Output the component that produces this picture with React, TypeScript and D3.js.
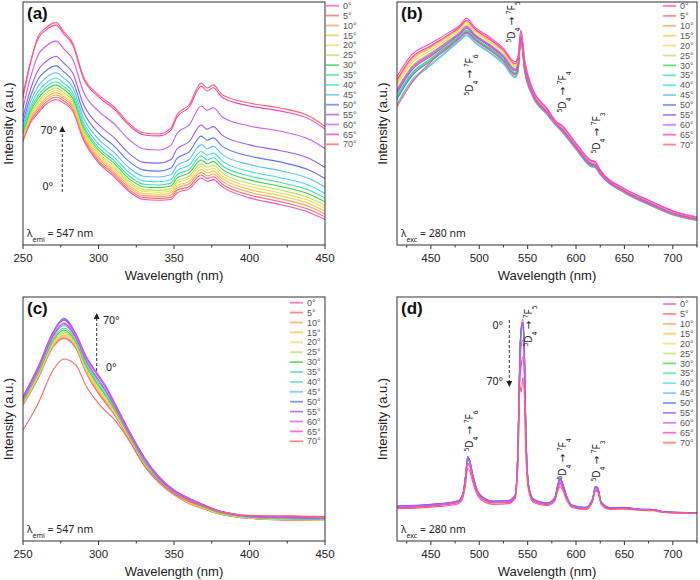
import React from "react";
import * as d3 from "d3";

// angle labels and line colours shared by all four panels
const angles = ["0°", "5°", "10°", "15°", "20°", "25°", "30°", "35°", "40°", "45°", "50°", "55°", "60°", "65°", "70°"];
const seriesColors = [
  "#ff4fb4", "#ff6a6a", "#ffa05a", "#ffc24a", "#eedd55", "#bde35a", "#3fd43f", "#3fe0a8",
  "#45dede", "#5ac0ff", "#5a78ff", "#9a5aff", "#cc5aff", "#ff3fc4", "#ff6464",
];

const ticksExc = [250, 300, 350, 400, 450];
const ticksEm = [450, 500, 550, 600, 650, 700];

// (a) excitation, lambda_emi = 547 nm
const wlA = [250, 255, 260, 265, 272, 277, 283, 290, 300, 310, 320, 330, 340, 348, 352, 360, 368, 372, 376, 382, 400, 420, 440, 450];
const excA = [
  [42.7, 50.3, 54.3, 57.7, 59.8, 58.4, 55.0, 43.3, 33.8, 28.3, 22.1, 18.7, 18.4, 18.7, 21.5, 23.1, 27.6, 26.2, 26.9, 23.9, 19.4, 16.7, 13.3, 10.5],
  [43.2, 51.0, 55.2, 58.6, 60.8, 59.3, 55.8, 44.1, 34.6, 29.2, 22.9, 19.5, 19.2, 19.6, 22.5, 24.1, 28.8, 27.4, 28.1, 25.0, 20.6, 17.9, 14.5, 11.6],
  [43.8, 51.8, 56.2, 59.6, 61.7, 60.2, 56.7, 44.9, 35.5, 30.0, 23.8, 20.3, 20.0, 20.5, 23.4, 25.2, 29.9, 28.5, 29.2, 26.2, 21.7, 19.1, 15.7, 12.8],
  [44.3, 52.5, 57.1, 60.5, 62.7, 61.0, 57.5, 45.6, 36.3, 30.9, 24.6, 21.2, 20.9, 21.4, 24.4, 26.2, 31.1, 29.7, 30.4, 27.3, 22.9, 20.3, 16.9, 13.9],
  [44.8, 53.3, 58.1, 61.5, 63.6, 61.9, 58.4, 46.4, 37.2, 31.7, 25.5, 22.0, 21.7, 22.2, 25.4, 27.3, 32.3, 30.8, 31.6, 28.4, 24.1, 21.5, 18.1, 15.1],
  [45.4, 54.0, 59.0, 62.4, 64.6, 62.8, 59.2, 47.2, 38.0, 32.6, 26.3, 22.8, 22.5, 23.1, 26.3, 28.3, 33.5, 32.0, 32.8, 29.6, 25.3, 22.7, 19.2, 16.2],
  [46.1, 55.0, 60.3, 63.7, 65.8, 64.0, 60.3, 48.3, 39.1, 33.8, 27.4, 23.9, 23.6, 24.3, 27.6, 29.7, 35.0, 33.5, 34.3, 31.1, 26.8, 24.2, 20.8, 17.8],
  [46.8, 56.0, 61.5, 65.0, 67.1, 65.2, 61.4, 49.3, 40.2, 34.9, 28.6, 25.0, 24.7, 25.5, 28.9, 31.1, 36.6, 35.0, 35.9, 32.6, 28.4, 25.8, 22.4, 19.3],
  [47.7, 57.2, 63.1, 66.5, 68.7, 66.6, 62.8, 50.6, 41.6, 36.3, 30.0, 26.4, 26.0, 27.0, 30.5, 32.8, 38.5, 37.0, 37.8, 34.5, 30.3, 27.8, 24.4, 21.2],
  [49.0, 58.9, 65.3, 68.8, 70.9, 68.7, 64.8, 52.4, 43.6, 38.3, 31.9, 28.3, 28.0, 29.0, 32.7, 35.2, 41.3, 39.6, 40.6, 37.2, 33.1, 30.6, 27.2, 23.9],
  [50.6, 61.1, 68.2, 71.6, 73.7, 71.3, 67.3, 54.8, 46.1, 40.9, 34.5, 30.8, 30.4, 31.7, 35.6, 38.3, 44.8, 43.1, 44.1, 40.6, 36.6, 34.2, 30.7, 27.4],
  [52.7, 64.1, 71.9, 75.4, 77.6, 74.9, 70.7, 57.9, 49.5, 44.4, 37.8, 34.0, 33.7, 35.2, 39.5, 42.5, 49.4, 47.7, 48.7, 45.1, 41.2, 38.9, 35.5, 31.9],
  [56.3, 69.0, 78.2, 81.7, 83.9, 80.7, 76.3, 63.1, 55.1, 50.1, 43.5, 39.5, 39.1, 41.1, 45.9, 49.4, 57.2, 55.4, 56.5, 52.7, 49.0, 46.9, 43.4, 39.6],
  [62.0, 75.5, 84.9, 88.4, 90.5, 86.9, 82.2, 68.6, 61.0, 56.1, 49.4, 45.3, 44.9, 47.3, 52.6, 56.7, 65.4, 63.4, 64.7, 60.7, 57.2, 55.2, 51.7, 47.7],
  [60.6, 74.9, 85.8, 89.3, 91.5, 87.8, 83.0, 69.4, 61.8, 57.0, 50.2, 46.1, 45.7, 48.2, 53.6, 57.7, 66.6, 64.6, 65.9, 61.8, 58.4, 56.4, 52.9, 48.8],
];

// (b) emission, lambda_exc = 280 nm
const wlB = [415, 430, 450, 470, 480, 487, 495, 510, 525, 537, 540, 543, 547, 555, 570, 580, 585, 600, 615, 620, 625, 650, 675, 700, 725];
const emB = [
  [69.3, 78.2, 83.0, 87.8, 90.5, 93.3, 89.8, 85.7, 80.9, 75.4, 77.5, 88.5, 76.1, 64.5, 56.3, 50.7, 49.4, 41.9, 35.0, 34.3, 30.9, 23.3, 18.5, 14.1, 11.6],
  [63.1, 72.4, 78.2, 84.0, 87.1, 89.5, 86.4, 82.3, 77.5, 72.0, 74.1, 85.8, 73.4, 62.8, 54.9, 49.7, 48.0, 40.5, 33.6, 33.0, 29.9, 22.3, 17.5, 13.2, 10.8],
  [67.4, 76.4, 81.6, 86.7, 89.5, 92.2, 88.8, 84.7, 79.9, 74.4, 76.5, 87.7, 75.3, 64.0, 55.9, 50.4, 49.0, 41.5, 34.6, 33.9, 30.6, 23.0, 18.2, 13.8, 11.4],
  [66.8, 75.9, 81.1, 86.3, 89.1, 91.8, 88.4, 84.3, 79.5, 74.0, 76.1, 87.4, 75.0, 63.8, 55.7, 50.3, 48.8, 41.3, 34.4, 33.8, 30.5, 22.9, 18.1, 13.7, 11.3],
  [65.6, 74.7, 80.1, 85.5, 88.5, 91.0, 87.8, 83.7, 78.9, 73.4, 75.5, 86.9, 74.5, 63.5, 55.5, 50.1, 48.6, 41.1, 34.2, 33.5, 30.3, 22.7, 17.9, 13.6, 11.1],
  [64.3, 73.5, 79.2, 84.8, 87.8, 90.3, 87.1, 83.0, 78.2, 72.7, 74.8, 86.3, 73.9, 63.1, 55.2, 49.9, 48.3, 40.8, 33.9, 33.2, 30.1, 22.5, 17.7, 13.4, 11.0],
  [61.2, 70.6, 76.8, 82.9, 86.1, 88.4, 85.4, 81.3, 76.5, 71.0, 73.1, 84.9, 72.6, 62.2, 54.5, 49.4, 47.6, 40.1, 33.2, 32.5, 29.5, 22.0, 17.2, 12.9, 10.6],
  [60.6, 70.0, 76.3, 82.5, 85.7, 88.0, 85.0, 80.9, 76.1, 70.6, 72.7, 84.7, 72.3, 62.1, 54.3, 49.3, 47.4, 39.9, 33.0, 32.4, 29.4, 21.9, 17.1, 12.8, 10.5],
  [57.5, 67.1, 73.9, 80.6, 84.0, 86.1, 83.3, 79.2, 74.4, 68.9, 71.0, 83.3, 70.9, 61.2, 53.6, 48.8, 46.7, 39.2, 32.3, 31.7, 28.9, 21.4, 16.6, 12.4, 10.1],
  [58.1, 67.7, 74.4, 81.0, 84.4, 86.5, 83.7, 79.6, 74.8, 69.3, 71.4, 83.6, 71.2, 61.4, 53.8, 48.9, 46.9, 39.4, 32.5, 31.9, 29.0, 21.5, 16.7, 12.5, 10.2],
  [60.0, 69.4, 75.8, 82.1, 85.4, 87.6, 84.7, 80.6, 75.8, 70.3, 72.4, 84.4, 72.1, 61.9, 54.2, 49.2, 47.3, 39.8, 32.9, 32.3, 29.3, 21.8, 17.0, 12.8, 10.4],
  [62.5, 71.8, 77.7, 83.6, 86.8, 89.1, 86.1, 82.0, 77.2, 71.7, 73.8, 85.5, 73.1, 62.6, 54.8, 49.6, 47.9, 40.4, 33.5, 32.8, 29.7, 22.2, 17.4, 13.1, 10.7],
  [63.7, 72.9, 78.7, 84.4, 87.4, 89.9, 86.7, 82.6, 77.8, 72.3, 74.4, 86.0, 73.7, 62.9, 55.0, 49.8, 48.1, 40.6, 33.7, 33.1, 30.0, 22.4, 17.6, 13.3, 10.9],
  [68.1, 77.0, 82.0, 87.0, 89.8, 92.5, 89.1, 85.0, 80.2, 74.7, 76.8, 88.0, 75.6, 64.2, 56.0, 50.5, 49.1, 41.6, 34.7, 34.0, 30.7, 23.1, 18.3, 13.9, 11.4],
  [56.9, 66.5, 75.3, 81.7, 85.1, 87.2, 84.4, 80.3, 75.5, 70.0, 72.1, 84.1, 71.8, 61.7, 54.1, 49.1, 47.2, 39.7, 32.8, 32.1, 29.2, 21.7, 16.9, 12.7, 10.3],
];

// (c) excitation, lambda_emi = 547 nm
const wlC = [250, 260, 270, 277, 285, 292, 300, 305, 310, 320, 330, 340, 350, 360, 370, 380, 390, 400, 425, 450];
const excC = [
  [55.7, 66.7, 79.6, 83.0, 79.0, 68.7, 60.5, 56.4, 52.3, 42.1, 31.2, 23.9, 18.9, 15.4, 13.1, 11.1, 10.0, 9.3, 8.6, 8.4],
  [55.8, 66.8, 79.8, 83.2, 79.2, 68.9, 60.7, 56.6, 52.5, 42.2, 31.3, 24.0, 19.0, 15.5, 13.2, 11.1, 10.0, 9.3, 8.6, 8.4],
  [56.0, 67.1, 80.1, 83.7, 79.5, 69.2, 61.1, 57.0, 52.7, 42.4, 31.5, 24.1, 19.1, 15.6, 13.2, 11.2, 10.1, 9.4, 8.7, 8.5],
  [56.3, 67.5, 80.6, 84.3, 80.0, 69.8, 61.7, 57.5, 53.1, 42.6, 31.7, 24.3, 19.2, 15.7, 13.4, 11.3, 10.2, 9.4, 8.8, 8.5],
  [56.5, 67.8, 81.1, 85.0, 80.4, 70.3, 62.3, 58.1, 53.5, 42.9, 32.0, 24.5, 19.4, 15.9, 13.5, 11.4, 10.3, 9.5, 8.9, 8.6],
  [56.8, 68.2, 81.6, 85.7, 80.9, 70.9, 62.9, 58.6, 54.0, 43.2, 32.3, 24.7, 19.5, 16.1, 13.6, 11.5, 10.4, 9.6, 9.0, 8.7],
  [57.2, 68.7, 82.2, 86.5, 81.5, 71.6, 63.7, 59.3, 54.5, 43.5, 32.6, 25.0, 19.7, 16.3, 13.8, 11.6, 10.5, 9.7, 9.1, 8.8],
  [57.5, 69.1, 82.8, 87.3, 82.1, 72.2, 64.4, 60.0, 55.0, 43.9, 33.0, 25.2, 19.9, 16.5, 14.0, 11.8, 10.6, 9.8, 9.2, 8.9],
  [57.9, 69.7, 83.6, 88.3, 82.8, 73.1, 65.3, 60.8, 55.6, 44.3, 33.4, 25.5, 20.2, 16.7, 14.2, 11.9, 10.7, 9.9, 9.3, 9.0],
  [58.4, 70.3, 84.3, 89.3, 83.6, 73.9, 66.2, 61.6, 56.3, 44.7, 33.8, 25.8, 20.4, 17.0, 14.4, 12.1, 10.8, 10.0, 9.4, 9.1],
  [59.0, 71.1, 85.4, 90.8, 84.6, 75.1, 67.6, 62.9, 57.2, 45.3, 34.4, 26.3, 20.8, 17.4, 14.7, 12.3, 11.0, 10.1, 9.6, 9.2],
  [59.2, 71.4, 85.8, 91.3, 85.0, 75.5, 68.0, 63.3, 57.5, 45.5, 34.6, 26.4, 20.9, 17.5, 14.8, 12.4, 11.1, 10.2, 9.7, 9.3],
  [58.9, 70.9, 85.2, 90.5, 84.4, 74.8, 67.3, 62.6, 57.0, 45.2, 34.3, 26.2, 20.7, 17.3, 14.6, 12.3, 11.0, 10.1, 9.6, 9.2],
  [58.2, 70.1, 84.1, 89.0, 83.3, 73.6, 65.9, 61.4, 56.0, 44.5, 33.6, 25.7, 20.3, 16.9, 14.3, 12.0, 10.8, 10.3, 10.1, 9.8],
  [45.5, 56.4, 70.1, 74.6, 72.1, 63.3, 56.4, 53.0, 50.2, 41.4, 31.2, 24.4, 19.3, 16.2, 14.1, 12.0, 11.1, 10.5, 10.3, 10.0],
];

// (d) emission, lambda_exc = 280 nm
const wlD = [415, 450, 478, 483, 486, 488, 490, 493, 497, 503, 515, 530, 537, 540, 542, 543.5, 545, 546.5, 548, 551, 556, 570, 578, 581, 583.5, 586, 590, 596, 610, 617, 620, 622.5, 626, 635, 648, 668, 680, 690, 725];
const emD = [
  [13.8, 14.5, 16.0, 18.6, 26.3, 33.5, 32.3, 27.0, 21.2, 17.7, 15.9, 16.1, 18.3, 38.5, 78.0, 88.5, 91.0, 82.0, 49.0, 23.0, 16.8, 15.1, 17.0, 21.5, 24.0, 22.3, 17.8, 14.2, 13.3, 16.5, 21.0, 20.7, 15.4, 13.3, 13.4, 12.8, 12.7, 11.9, 11.4],
  [13.9, 14.6, 16.1, 18.8, 26.8, 34.0, 32.7, 27.3, 21.4, 17.8, 16.0, 16.2, 18.3, 37.8, 76.0, 86.5, 88.5, 79.5, 47.0, 22.4, 16.8, 15.2, 17.3, 22.2, 25.1, 23.2, 18.3, 14.3, 13.4, 16.8, 21.7, 21.2, 15.6, 13.4, 13.5, 12.8, 12.7, 11.9, 11.4],
  [13.9, 14.6, 16.1, 18.8, 26.7, 34.0, 32.7, 27.3, 21.4, 17.8, 16.0, 16.2, 18.3, 37.6, 75.6, 85.6, 87.8, 78.8, 46.8, 22.4, 16.8, 15.2, 17.3, 22.1, 25.0, 23.1, 18.3, 14.3, 13.4, 16.8, 21.7, 21.2, 15.6, 13.4, 13.5, 12.8, 12.7, 11.9, 11.4],
  [14.0, 14.7, 16.2, 18.9, 26.9, 34.2, 32.9, 27.4, 21.5, 17.9, 16.1, 16.3, 18.4, 37.8, 75.8, 85.8, 88.0, 78.9, 46.9, 22.5, 16.9, 15.3, 17.4, 22.3, 25.2, 23.3, 18.4, 14.4, 13.5, 16.9, 21.8, 21.3, 15.7, 13.4, 13.5, 12.8, 12.7, 11.9, 11.4],
  [14.0, 14.7, 16.2, 18.9, 26.9, 34.2, 32.9, 27.4, 21.5, 17.9, 16.1, 16.3, 18.4, 37.9, 75.9, 85.9, 88.1, 79.0, 47.0, 22.5, 16.9, 15.3, 17.4, 22.3, 25.3, 23.3, 18.4, 14.4, 13.5, 16.9, 21.8, 21.3, 15.7, 13.4, 13.5, 12.8, 12.7, 11.9, 11.4],
  [14.0, 14.7, 16.2, 18.9, 26.9, 34.2, 32.9, 27.4, 21.5, 17.9, 16.1, 16.3, 18.4, 38.0, 76.0, 86.2, 88.5, 79.3, 47.0, 22.5, 16.9, 15.3, 17.4, 22.4, 25.4, 23.4, 18.4, 14.4, 13.5, 16.9, 21.9, 21.4, 15.7, 13.4, 13.5, 12.8, 12.7, 11.9, 11.4],
  [14.1, 14.8, 16.3, 19.0, 27.0, 34.3, 33.0, 27.5, 21.6, 18.0, 16.2, 16.4, 18.5, 38.0, 76.0, 86.0, 88.0, 79.0, 47.0, 22.5, 17.0, 15.4, 17.5, 22.5, 25.5, 23.5, 18.5, 14.5, 13.6, 17.0, 22.0, 21.5, 15.8, 13.5, 13.6, 12.9, 12.8, 12.0, 11.5],
  [14.1, 14.8, 16.3, 19.0, 27.0, 34.3, 33.0, 27.5, 21.6, 18.0, 16.2, 16.4, 18.5, 38.0, 76.2, 86.3, 88.5, 79.2, 47.0, 22.5, 17.0, 15.4, 17.5, 22.6, 25.7, 23.6, 18.5, 14.5, 13.6, 17.0, 22.0, 21.5, 15.8, 13.5, 13.6, 12.9, 12.8, 12.0, 11.5],
  [14.1, 14.8, 16.3, 19.0, 27.1, 34.5, 33.1, 27.6, 21.6, 18.0, 16.2, 16.4, 18.5, 38.2, 76.5, 86.7, 89.0, 79.6, 47.2, 22.6, 17.0, 15.4, 17.6, 22.7, 25.8, 23.7, 18.6, 14.5, 13.6, 17.0, 22.1, 21.6, 15.8, 13.5, 13.6, 12.9, 12.8, 12.0, 11.5],
  [14.1, 14.8, 16.3, 19.0, 27.0, 34.4, 33.0, 27.5, 21.6, 18.0, 16.2, 16.4, 18.5, 38.0, 76.3, 86.4, 88.5, 79.4, 47.1, 22.5, 17.0, 15.4, 17.5, 22.6, 25.7, 23.6, 18.5, 14.5, 13.6, 17.0, 22.1, 21.6, 15.8, 13.5, 13.6, 12.9, 12.8, 12.0, 11.5],
  [14.3, 15.0, 16.5, 19.2, 27.2, 34.6, 33.2, 27.7, 21.8, 18.2, 16.4, 16.6, 18.7, 38.5, 77.0, 87.3, 89.5, 80.0, 47.5, 22.7, 17.2, 15.6, 17.7, 22.8, 25.8, 23.8, 18.7, 14.7, 13.8, 17.2, 22.3, 21.8, 16.0, 13.7, 13.8, 13.0, 12.9, 12.1, 11.6],
  [14.2, 14.9, 16.4, 19.1, 27.1, 34.5, 33.1, 27.6, 21.7, 18.1, 16.3, 16.5, 18.6, 38.3, 76.7, 86.9, 89.0, 79.7, 47.3, 22.6, 17.1, 15.5, 17.6, 22.7, 25.7, 23.7, 18.6, 14.6, 13.7, 17.1, 22.2, 21.7, 15.9, 13.6, 13.7, 13.0, 12.9, 12.1, 11.6],
  [14.0, 14.7, 16.2, 18.8, 26.6, 33.6, 32.4, 27.1, 21.3, 17.8, 16.0, 16.2, 18.2, 35.5, 71.0, 80.5, 82.4, 74.0, 44.0, 22.0, 16.7, 15.2, 17.2, 22.0, 24.8, 22.9, 18.2, 14.3, 13.4, 16.7, 21.4, 21.0, 15.6, 13.3, 13.4, 12.8, 12.7, 11.9, 11.4],
  [13.6, 14.3, 15.7, 18.2, 25.3, 31.8, 30.7, 25.9, 20.6, 17.3, 15.6, 15.8, 17.8, 33.0, 66.0, 72.5, 75.5, 68.0, 41.0, 21.5, 16.3, 14.9, 16.8, 21.1, 23.5, 22.0, 17.6, 14.0, 13.1, 16.3, 20.8, 20.4, 15.3, 13.1, 13.2, 12.6, 12.5, 11.8, 11.3],
  [13.2, 13.9, 15.2, 17.5, 23.5, 29.8, 28.8, 24.5, 19.8, 16.6, 15.0, 15.3, 17.3, 31.0, 63.5, 61.0, 67.0, 60.0, 37.0, 20.5, 15.8, 14.5, 16.3, 20.3, 22.3, 21.0, 17.0, 13.7, 12.9, 16.0, 20.5, 20.0, 15.0, 12.9, 13.1, 12.5, 12.4, 11.7, 11.3],
];

const axisFont = "'Liberation Sans', Arial, sans-serif";
const noteFont = "'Noto Sans', 'DejaVu Sans', sans-serif";

// rotated "5D4 -> 7Fj" transition label
function Transition({ x, y, j }: { x: number; y: number; j: number }) {
  return (
    <text
      transform={`translate(${x},${y}) rotate(-90)`}
      textAnchor="middle"
      dy="0.35em"
      fontSize={10}
      fontFamily={noteFont}
      fill="#222"
    >
      <tspan fontSize={6.5} baselineShift="super">5</tspan>
      <tspan>D</tspan>
      <tspan fontSize={6.5} baselineShift="sub">4</tspan>
      <tspan> → </tspan>
      <tspan fontSize={6.5} baselineShift="super">7</tspan>
      <tspan>F</tspan>
      <tspan fontSize={6.5} baselineShift="sub">{j}</tspan>
    </text>
  );
}

function DashedArrow({ x, from, to }: { x: number; from: number; to: number }) {
  const dir = to < from ? -1 : 1;
  return (
    <g>
      <line x1={x} x2={x} y1={from} y2={to - dir * 5} stroke="#333" strokeWidth={1} strokeDasharray="3,2" />
      <path d={`M${x - 3},${to - dir * 6} L${x + 3},${to - dir * 6} L${x},${to} Z`} fill="#222" />
    </g>
  );
}

type PanelProps = {
  id: string;
  x0: number;
  x1: number;
  y0: number;
  y1: number;
  domain: [number, number];
  ticks: number[];
  wl: number[];
  rows: number[][];
  tag: string;
  sub: string;
  noteVal: string;
  legendX: number;
  legendY: number;
  children?: (x: d3.ScaleLinear<number, number>) => React.ReactNode;
};

function Panel(p: PanelProps) {
  const x = d3.scaleLinear().domain(p.domain).range([p.x0, p.x1]);
  const y = d3.scaleLinear().domain([0, 100]).range([p.y1, p.y0]);
  const line = d3
    .line<number>()
    .x((_, i) => x(p.wl[i]))
    .y((d) => y(d))
    .curve(d3.curveMonotoneX);

  const step = p.ticks[1] - p.ticks[0];
  const minors = [...p.ticks.map((t) => t - step / 2), p.ticks[p.ticks.length - 1] + step / 2].filter(
    (t) => t > p.domain[0] && t <= p.domain[1]
  );

  return (
    <g>
      <defs>
        <clipPath id={`clip-${p.id}`}>
          <rect x={p.x0} y={p.y0} width={p.x1 - p.x0} height={p.y1 - p.y0} />
        </clipPath>
      </defs>
      <g clipPath={`url(#clip-${p.id})`} fill="none">
        {p.rows.map((r, i) => (
          <path key={i} d={line(r) || ""} stroke={seriesColors[i]} strokeWidth={1.1} />
        ))}
      </g>
      <rect x={p.x0} y={p.y0} width={p.x1 - p.x0} height={p.y1 - p.y0} fill="none" stroke="#333" strokeWidth={1} />
      {p.ticks.map((t) => (
        <g key={t}>
          <line x1={x(t)} x2={x(t)} y1={p.y1} y2={p.y1 + 4} stroke="#333" />
          <text x={x(t)} y={p.y1 + 16.5} textAnchor="middle" fontSize={11.5} fontFamily={axisFont} fill="#222">
            {t}
          </text>
        </g>
      ))}
      {minors.map((t) => (
        <line key={t} x1={x(t)} x2={x(t)} y1={p.y1} y2={p.y1 + 2.5} stroke="#333" />
      ))}
      <text
        x={(p.x0 + p.x1) / 2}
        y={p.y1 + 35}
        textAnchor="middle"
        fontSize={13}
        fontFamily={axisFont}
        fill="#222"
      >
        Wavelength (nm)
      </text>
      <text
        transform={`translate(${p.x0 - 15},${(p.y0 + p.y1) / 2}) rotate(-90)`}
        textAnchor="middle"
        dy="0.35em"
        fontSize={13}
        fontFamily={axisFont}
        fill="#222"
      >
        Intensity (a.u.)
      </text>
      <text x={p.x0 + 4} y={p.y0 + 17} fontSize={17} fontWeight="bold" fontFamily={axisFont} fill="#111">
        {p.tag}
      </text>
      <text x={p.x0 + 4} y={p.y1 - 8} fontSize={10.5} fontFamily={noteFont} fill="#222">
        λ<tspan fontSize={7} baselineShift="sub">{p.sub}</tspan>
        <tspan> = {p.noteVal}</tspan>
      </text>
      {angles.map((a, i) => {
        const ly = p.legendY + i * 9.9;
        return (
          <g key={a}>
            <line x1={p.legendX} x2={p.legendX + 13} y1={ly} y2={ly} stroke={seriesColors[i]} strokeWidth={1.8} opacity={0.75} />
            <text x={p.legendX + 17} y={ly} dy="0.35em" fontSize={9} fontFamily={axisFont} fill="#555">
              {a}
            </text>
          </g>
        );
      })}
      {p.children && p.children(x)}
    </g>
  );
}

export default function App() {
  return (
    <svg width={700} height={580} style={{ position: "absolute", left: 0, top: 0, background: "#fff" }}>
      <Panel
        id="a"
        x0={23}
        x1={325}
        y0={2}
        y1={245}
        domain={[250, 450]}
        ticks={ticksExc}
        wl={wlA}
        rows={excA}
        tag="(a)"
        sub="emi"
        noteVal="547 nm"
        legendX={326}
        legendY={5.7}
      >
        {() => (
          <g fontFamily={noteFont} fontSize={10.5} fill="#222">
            <DashedArrow x={62.3} from={192} to={126} />
            <text x={57} y={134} textAnchor="end">70°</text>
            <text x={53} y={190} textAnchor="end">0°</text>
          </g>
        )}
      </Panel>
      <Panel
        id="b"
        x0={397}
        x1={697}
        y0={2}
        y1={245}
        domain={[415, 725]}
        ticks={ticksEm}
        wl={wlB}
        rows={emB}
        tag="(b)"
        sub="exc"
        noteVal="280 nm"
        legendX={663}
        legendY={6}
      >
        {(x) => (
          <g>
            <Transition x={x(489.5)} y={75} j={6} />
            <Transition x={x(533.5)} y={22} j={5} />
            <Transition x={x(586.5)} y={92} j={4} />
            <Transition x={x(621.5)} y={133} j={3} />
          </g>
        )}
      </Panel>
      <Panel
        id="c"
        x0={23}
        x1={325}
        y0={297}
        y1={541}
        domain={[250, 450]}
        ticks={ticksExc}
        wl={wlC}
        rows={excC}
        tag="(c)"
        sub="emi"
        noteVal="547 nm"
        legendX={290}
        legendY={302.7}
      >
        {() => (
          <g fontFamily={noteFont} fontSize={10.5} fill="#222">
            <DashedArrow x={96.7} from={371} to={313} />
            <text x={103} y={324}>70°</text>
            <text x={106} y={371}>0°</text>
          </g>
        )}
      </Panel>
      <Panel
        id="d"
        x0={397}
        x1={697}
        y0={297}
        y1={541}
        domain={[415, 725]}
        ticks={ticksEm}
        wl={wlD}
        rows={emD}
        tag="(d)"
        sub="exc"
        noteVal="280 nm"
        legendX={663}
        legendY={304}
      >
        {(x) => (
          <g>
            <g fontFamily={noteFont} fontSize={10.5} fill="#222">
              <DashedArrow x={509.3} from={320} to={387} />
              <text x={503} y={329} textAnchor="end">0°</text>
              <text x={503} y={385} textAnchor="end">70°</text>
            </g>
            <Transition x={x(489.5)} y={431} j={6} />
            <Transition x={x(550.5)} y={326} j={5} />
            <Transition x={x(586.5)} y={459} j={4} />
            <Transition x={x(621.5)} y={461} j={3} />
          </g>
        )}
      </Panel>
    </svg>
  );
}
